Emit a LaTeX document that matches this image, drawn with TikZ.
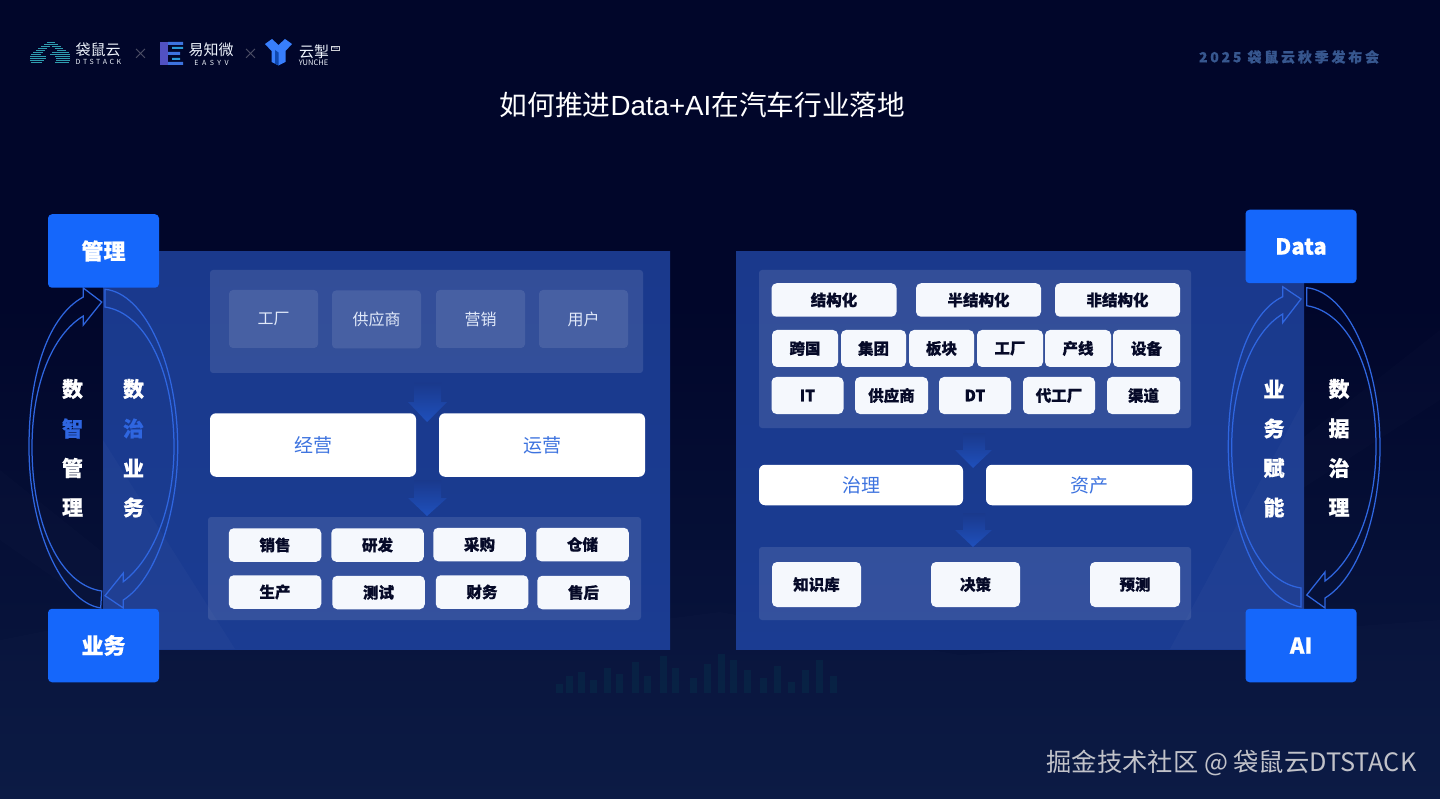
\documentclass[tikz,border=0pt]{standalone}
\usepackage{fontspec}
\setmainfont{Noto Sans CJK SC}[BoldFeatures={FakeBold=0.5}]
\newfontfamily\latinfont{Liberation Sans}
\usetikzlibrary{positioning}
\definecolor{ink}{HTML}{060A28}
\definecolor{nightblue}{HTML}{01062A}
\definecolor{floorblue}{HTML}{0A1943}
\definecolor{brandblue}{HTML}{1567FB}
\definecolor{ringblue}{HTML}{2F66E0}
\definecolor{softblue}{HTML}{3D73DF}
\definecolor{panelblue}{HTML}{1A398C}
\definecolor{flowblue}{HTML}{1F50BC}
\definecolor{dimblue}{HTML}{37578F}
\definecolor{cloudteal}{HTML}{2F9DB0}
\tikzset{
  panel/.style={rounded corners=3pt, fill=white, fill opacity=.11},
  srcbox/.style={rounded corners=4pt, minimum height=58pt, minimum width=89pt, inner sep=0pt, fill=white, fill opacity=.10, text opacity=1, text=white!85!softblue, font=\fontsize{16}{16}\selectfont},
  midbox/.style={rounded corners=6pt, fill=white, inner sep=0pt, text=softblue, font=\fontsize{19}{19}\selectfont},
  chip/.style={rounded corners=5pt, fill=white!95!softblue, inner sep=0pt, text=ink, font=\fontsize{15.5}{15.5}\selectfont\bfseries},
  headbox/.style={rounded corners=4pt, fill=brandblue, inner sep=0pt, minimum width=111pt, minimum height=73.5pt, text=white, font=\fontsize{22}{22}\selectfont\bfseries},
  ring/.style={draw=ringblue, line width=1.25pt, line join=miter},
  vtext/.style={inner sep=0pt, font=\fontsize{21}{21}\selectfont\bfseries},
  flow/.style={top color=panelblue, bottom color=flowblue, draw=none},
  logotext/.style={inner sep=0pt, text=white!92!softblue}
}
\begin{document}
\begin{tikzpicture}[x=1pt, y=-1pt]
\useasboundingbox (0,0) rectangle (1440,799);
% background
\fill[nightblue] (0,0) rectangle (1440,300);
\shade[top color=nightblue, bottom color=floorblue] (0,300) rectangle (1440,799);
\fill[white, opacity=.012] (0,640) -- (150,610) -- (500,640) -- (720,612) -- (960,655) -- (1440,620) -- (1440,799) -- (0,799) -- cycle;
\fill[white, opacity=.012] (0,470) -- (100,550) -- (100,610) -- (0,540) -- cycle;
\fill[white, opacity=.012] (1440,330) -- (1300,440) -- (1300,490) -- (1440,400) -- cycle;
\foreach \bx/\bt in {556/684,566/676,578/672,590/680,604/668,616/674,632/662,644/676,660/656,672/668,690/678,704/664,718/654,730/660,744/670,760/678,774/666,788/682,802/670,816/660,830/676}
  \fill[teal!55!ink, opacity=.22] (\bx,\bt) rectangle ++(7,{693-\bt});
% panels
\shade[top color=panelblue, bottom color=panelblue!88!flowblue] (103,252) rectangle (670,649);
\shade[top color=panelblue, bottom color=panelblue!88!flowblue] (736,252) rectangle (1304,649);
\fill[white, opacity=.025] (103,440) -- (235,649) -- (103,649) -- cycle;
\fill[white, opacity=.025] (1304,400) -- (1170,649) -- (1304,649) -- cycle;
\fill[panel] (210,270) rectangle (643,373);
\fill[panel] (208,517) rectangle (641,620);
\fill[panel] (759,270) rectangle (1191,428);
\fill[panel] (759,547) rectangle (1191,620);
% flow arrows
\shade[flow] (414,383) -- (441,383) -- (441,402) -- (447,402) -- (427,422) -- (408,402) -- (414,402) -- cycle;
\shade[flow] (414,480) -- (441,480) -- (441,498) -- (447,498) -- (427,516) -- (408,498) -- (414,498) -- cycle;
\shade[flow] (963,433) -- (985,433) -- (985,450) -- (992,450) -- (973,468) -- (955,450) -- (963,450) -- cycle;
\shade[flow] (963,513) -- (985,513) -- (985,530) -- (992,530) -- (973,547) -- (955,530) -- (963,530) -- cycle;
% left column
\node[srcbox](factory) at (273.5,319) {工厂};
\node[srcbox](supplier) at (376.5,319.5) {供应商};
\node[srcbox](marketing) at (480.5,319) {营销};
\node[srcbox](user) at (583.5,319) {用户};
\node[midbox, minimum width=206pt, minimum height=63.5pt](manage) at (313,445) {经营};
\node[midbox, minimum width=206pt, minimum height=63.5pt](operate) at (542,445) {运营};
\node[chip, minimum width=92.5pt, minimum height=33.5pt](sales) at (275,545) {销售};
\node[chip, minimum width=92.5pt, minimum height=33.5pt](rnd) at (377.5,545) {研发};
\node[chip, minimum width=92.5pt, minimum height=33.5pt](purchase) at (479.5,544.5) {采购};
\node[chip, minimum width=92.5pt, minimum height=33.5pt](storage) at (582.5,544.5) {仓储};
\node[chip, minimum width=92.5pt, minimum height=33.5pt](produce) at (275,592) {生产};
\node[chip, minimum width=92.5pt, minimum height=33.5pt](testing) at (378.5,592.5) {测试};
\node[chip, minimum width=92.5pt, minimum height=33.5pt](finance) at (482,592) {财务};
\node[chip, minimum width=92.5pt, minimum height=33.5pt](aftersale) at (583.5,592.5) {售后};
% right column
\node[chip, minimum width=125pt, minimum height=33.5pt](structured) at (834,300) {结构化};
\node[chip, minimum width=125pt, minimum height=33.5pt](semi) at (978.5,300) {半结构化};
\node[chip, minimum width=125pt, minimum height=33.5pt](unstructured) at (1117.5,300) {非结构化};
\node[chip, minimum width=66pt, minimum height=37pt](cross) at (805,348.5) {跨国};
\node[chip, minimum width=65pt, minimum height=37pt](group) at (873.5,348.5) {集团};
\node[chip, minimum width=65pt, minimum height=37pt](sector) at (941.5,348.5) {板块};
\node[chip, minimum width=66pt, minimum height=37pt](plant) at (1010,348.5) {工厂};
\node[chip, minimum width=66pt, minimum height=37pt](line) at (1078,348.5) {产线};
\node[chip, minimum width=67pt, minimum height=37pt](device) at (1146.5,348.5) {设备};
\node[chip, minimum width=72pt, minimum height=37pt](it) at (807.5,395.5) {IT};
\node[chip, minimum width=73pt, minimum height=37pt](vendor) at (891.5,395.5) {供应商};
\node[chip, minimum width=72pt, minimum height=37pt](dt) at (975,395.5) {DT};
\node[chip, minimum width=72pt, minimum height=37pt](oem) at (1059,395.5) {代工厂};
\node[chip, minimum width=73pt, minimum height=37pt](channel) at (1143.5,395.5) {渠道};
\node[midbox, minimum width=204pt, minimum height=40.5pt](govern) at (861,485) {治理};
\node[midbox, minimum width=206pt, minimum height=40.5pt](asset) at (1089,485) {资产};
\node[chip, minimum width=89pt, minimum height=45pt](knowledge) at (816.5,584.5) {知识库};
\node[chip, minimum width=89pt, minimum height=45pt](decision) at (975.5,584.5) {决策};
\node[chip, minimum width=90pt, minimum height=45pt](forecast) at (1135,584.5) {预测};
% rings
\draw[ring] (100.7,608) .. controls (62,602) and (29,530) .. (29,447) .. controls (29,370) and (50,315) .. (83.3,297) -- (83.3,288) -- (101.7,302) -- (83.3,325) -- (83.3,316) .. controls (52,335) and (32,385) .. (32,447) .. controls (32,525) and (60,585) .. (101.7,591) -- cycle;
\draw[ring] (105,289.3) .. controls (145,293) and (177.7,365) .. (177.7,447) .. controls (177.7,515) and (155,580) .. (123.3,600) -- (123.3,608) -- (105,595.7) -- (123.3,573) -- (123.3,581.7) .. controls (152,560) and (174,510) .. (174,447) .. controls (174,370) and (145,313) .. (105,307) -- cycle;
\draw[ring] (1301,607) .. controls (1260,600) and (1228.3,530) .. (1228.3,447) .. controls (1228.3,370) and (1250,312) .. (1282.7,296.7) -- (1282.7,286.7) -- (1301,299) -- (1282.7,322.7) -- (1282.7,314) .. controls (1252,332) and (1231.7,385) .. (1231.7,447) .. controls (1231.7,525) and (1260,582) .. (1301,588) -- cycle;
\draw[ring] (1306.7,287.7) .. controls (1348,292) and (1380,365) .. (1380,447) .. controls (1380,515) and (1358,578) .. (1325,598) -- (1325,608) -- (1306.7,595) -- (1325,572) -- (1325,581) .. controls (1354,560) and (1376,510) .. (1376,447) .. controls (1376,370) and (1348,312) .. (1306.7,305.7) -- cycle;
% head boxes
\node[headbox](mgmt) at (103.5,251) {管理};
\node[headbox](biz) at (103.5,645.5) {业务};
\node[headbox](data) at (1301,246.5) {Data};
\node[headbox](ai) at (1301,645.5) {AI};
% ring labels
\foreach \name/\lx/\chars in {a/72.5/{数/white,智/ringblue,管/white,理/white}, b/133.5/{数/white,治/ringblue,业/white,务/white}, c/1274/{业/white,务/white,赋/white,能/white}, d/1339/{数/white,据/white,治/white,理/white}}{
  \foreach \ch/\tone [count=\k] in \chars
    \node[vtext, text=\tone](\name\k) at (\lx,{349.5+39.5*\k}) {\ch};
}
% title and captions
\node[inner sep=0pt, text=white, font=\fontsize{27.7}{27.7}\selectfont](title) at (702.5,105) {如何推进{\latinfont Data+AI}在汽车行业落地};
\node[inner sep=0pt, text=dimblue, font=\fontsize{14}{14}\selectfont\bfseries\addfontfeature{LetterSpace=20}](event) at (1289,57) {2025 袋鼠云秋季发布会};
\node[inner sep=0pt, text=white!75!ink, font=\fontsize{25.3}{25.3}\selectfont](mark) at (1231.5,762.5) {掘金技术社区 @ 袋鼠云DTSTACK};
% logos
\foreach \ly/\xa/\xb in {43/47/55,45/44/58,47/41/50,47/52/61,49/38/47,49/55/63,51/36/45,51/57/66,53/33/43,53/52/69,55/31/41,55/50/70,57/30/46,57/55/70,59/30/46,59/56/70,61/30/44,61/56/70,63/31/42,63/55/69}
  \draw[cloudteal, line width=1pt] (\xa,\ly) -- (\xb,\ly);
\node[logotext, font=\fontsize{15}{15}\selectfont](dtname) at (98,50) {袋鼠云};
\node[logotext, font=\fontsize{7}{7}\selectfont\addfontfeature{LetterSpace=38}](dtlatin) at (98.5,62) {DTSTACK};
\node[inner sep=0pt, text=white!30!ink, font=\fontsize{15}{15}\selectfont](timesa) at (140.5,54) {×};
\fill[softblue!70!violet] (160,42) rectangle (168,65);
\fill[softblue] (168,42) rectangle (183,45) (168,52) rectangle (180,55) (168,62) rectangle (183,65);
\fill[cyan!60!softblue] (172,47) rectangle (183,49) (172,58) rectangle (180,60);
\node[logotext, font=\fontsize{15}{15}\selectfont](easyname) at (211,50) {易知微};
\node[logotext, font=\fontsize{7}{7}\selectfont\addfontfeature{LetterSpace=50}](easylatin) at (211.5,63) {EASYV};
\node[inner sep=0pt, text=white!30!ink, font=\fontsize{15}{15}\selectfont](timesb) at (250.5,54) {×};
\fill[brandblue!85!white] (265,44) -- (272,39) -- (278.5,45) -- (285,39) -- (292,44) -- (285.5,51) -- (285.5,62) -- (278.5,65.5) -- (271.5,62) -- (271.5,51) -- cycle;
\fill[brandblue!70!black] (275,50) -- (278.5,52.5) -- (278.5,65.5) -- (275,63.7) -- cycle;
\node[logotext, font=\fontsize{15}{15}\selectfont](yunname) at (314,52) {云掣};
\node[logotext, draw=white!80!ink, line width=.4pt, inner sep=.6pt, font=\fontsize{3.5}{3.5}\selectfont](pro) at (335,48) {PRO};
\node[logotext, font=\fontsize{7.5}{7.5}\selectfont](yunlatin) at (313.5,63) {YUNCHE};
\end{tikzpicture}
\end{document}
